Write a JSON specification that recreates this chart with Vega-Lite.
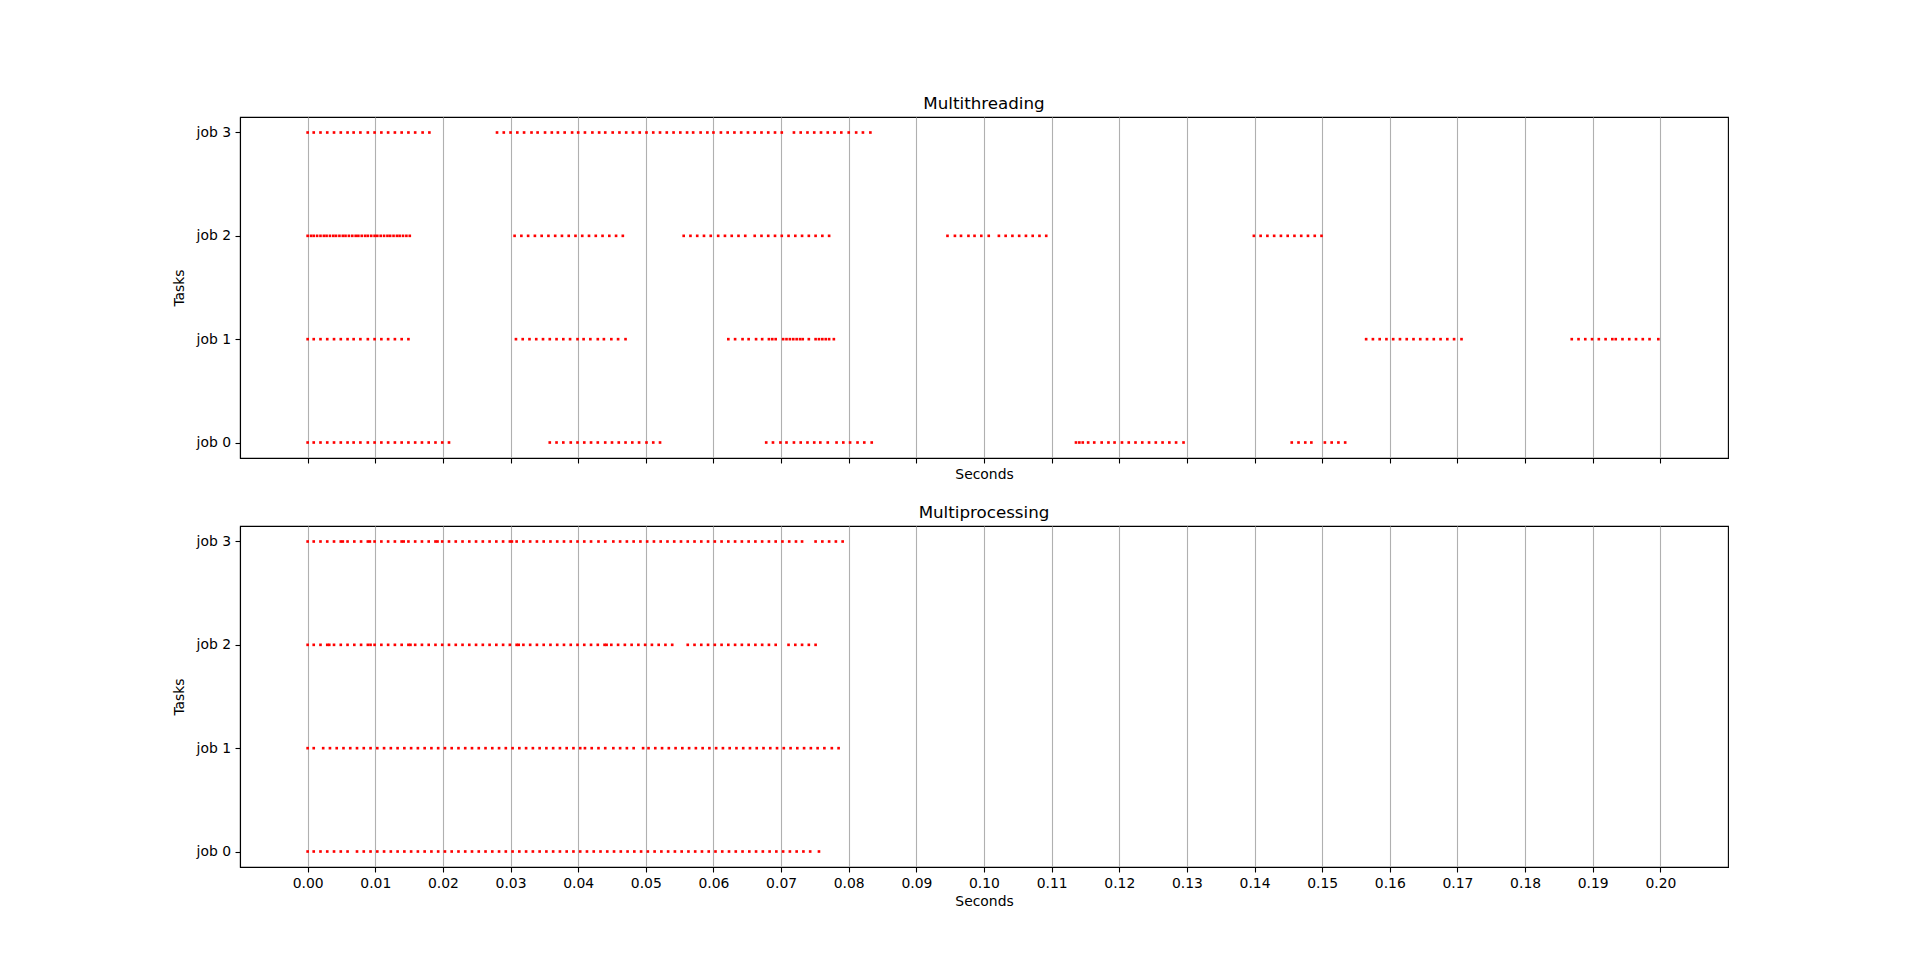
{
"$schema": "https://vega.github.io/schema/vega-lite/v6.json",
"background": "white",
"padding": {"left": 172, "top": 95, "right": 192, "bottom": 70},
"spacing": 68,
"bounds": "flush",
"datasets": {
"mt": [
{"j":3,"t":0},{"j":3,"t":0.0009},{"j":3,"t":0.0019},{"j":3,"t":0.0029},{"j":3,"t":0.0039},{"j":3,"t":0.0049},{"j":3,"t":0.0059},{"j":3,"t":0.0068},{"j":3,"t":0.0078},{"j":3,"t":0.0089},{"j":3,"t":0.0099},{"j":3,"t":0.0109},{"j":3,"t":0.0119},{"j":3,"t":0.0129},{"j":3,"t":0.0139},{"j":3,"t":0.0149},{"j":3,"t":0.0159},{"j":3,"t":0.017},{"j":3,"t":0.018},
{"j":3,"t":0.028},{"j":3,"t":0.029},{"j":3,"t":0.03},{"j":3,"t":0.031},{"j":3,"t":0.032},{"j":3,"t":0.0331},{"j":3,"t":0.034},{"j":3,"t":0.0351},{"j":3,"t":0.0361},{"j":3,"t":0.037},{"j":3,"t":0.038},{"j":3,"t":0.0391},{"j":3,"t":0.04},{"j":3,"t":0.041},{"j":3,"t":0.0421},{"j":3,"t":0.0431},{"j":3,"t":0.044},{"j":3,"t":0.0451},{"j":3,"t":0.0461},{"j":3,"t":0.0471},{"j":3,"t":0.0481},{"j":3,"t":0.0491},{"j":3,"t":0.0501},{"j":3,"t":0.0511},{"j":3,"t":0.0521},{"j":3,"t":0.0531},{"j":3,"t":0.0541},{"j":3,"t":0.0551},{"j":3,"t":0.0561},{"j":3,"t":0.057},{"j":3,"t":0.0581},{"j":3,"t":0.0591},{"j":3,"t":0.06},{"j":3,"t":0.0611},{"j":3,"t":0.0621},{"j":3,"t":0.0631},{"j":3,"t":0.0641},{"j":3,"t":0.0651},{"j":3,"t":0.0661},{"j":3,"t":0.0671},{"j":3,"t":0.0681},{"j":3,"t":0.0691},{"j":3,"t":0.0701},
{"j":3,"t":0.0719},{"j":3,"t":0.0729},{"j":3,"t":0.0739},{"j":3,"t":0.0749},{"j":3,"t":0.0759},{"j":3,"t":0.0769},{"j":3,"t":0.0779},{"j":3,"t":0.0789},{"j":3,"t":0.08},{"j":3,"t":0.0811},{"j":3,"t":0.0821},{"j":3,"t":0.0832},
{"j":2,"t":0},{"j":2,"t":0.0005},{"j":2,"t":0.0009},{"j":2,"t":0.0014},{"j":2,"t":0.0019},{"j":2,"t":0.0024},{"j":2,"t":0.0028},{"j":2,"t":0.0033},{"j":2,"t":0.0038},{"j":2,"t":0.0042},{"j":2,"t":0.0047},{"j":2,"t":0.0052},{"j":2,"t":0.0056},{"j":2,"t":0.0061},{"j":2,"t":0.0066},{"j":2,"t":0.0071},{"j":2,"t":0.0075},{"j":2,"t":0.008},{"j":2,"t":0.0085},{"j":2,"t":0.0089},{"j":2,"t":0.0094},{"j":2,"t":0.0099},{"j":2,"t":0.0103},{"j":2,"t":0.0108},{"j":2,"t":0.0113},{"j":2,"t":0.0118},{"j":2,"t":0.0122},{"j":2,"t":0.0127},{"j":2,"t":0.0132},{"j":2,"t":0.0136},{"j":2,"t":0.0141},{"j":2,"t":0.0146},{"j":2,"t":0.0151},
{"j":2,"t":0.0306},{"j":2,"t":0.0316},{"j":2,"t":0.0326},{"j":2,"t":0.0336},{"j":2,"t":0.0346},{"j":2,"t":0.0356},{"j":2,"t":0.0366},{"j":2,"t":0.0376},{"j":2,"t":0.0386},{"j":2,"t":0.0396},{"j":2,"t":0.0406},{"j":2,"t":0.0416},{"j":2,"t":0.0426},{"j":2,"t":0.0436},{"j":2,"t":0.0446},{"j":2,"t":0.0456},{"j":2,"t":0.0466},
{"j":2,"t":0.0556},{"j":2,"t":0.0566},{"j":2,"t":0.0576},{"j":2,"t":0.0586},{"j":2,"t":0.0596},{"j":2,"t":0.0607},{"j":2,"t":0.0617},{"j":2,"t":0.0627},{"j":2,"t":0.0637},{"j":2,"t":0.0647},
{"j":2,"t":0.0661},{"j":2,"t":0.0671},{"j":2,"t":0.0681},{"j":2,"t":0.0691},{"j":2,"t":0.0701},{"j":2,"t":0.0711},{"j":2,"t":0.0721},{"j":2,"t":0.0731},{"j":2,"t":0.0741},{"j":2,"t":0.0751},{"j":2,"t":0.0761},{"j":2,"t":0.0771},
{"j":2,"t":0.0946},{"j":2,"t":0.0957},{"j":2,"t":0.0966},{"j":2,"t":0.0977},{"j":2,"t":0.0986},{"j":2,"t":0.0996},{"j":2,"t":0.1007},{"j":2,"t":0.1022},{"j":2,"t":0.1032},{"j":2,"t":0.1042},{"j":2,"t":0.1052},{"j":2,"t":0.1062},{"j":2,"t":0.1072},{"j":2,"t":0.1082},{"j":2,"t":0.1092},
{"j":2,"t":0.1399},{"j":2,"t":0.1409},{"j":2,"t":0.1419},{"j":2,"t":0.1429},{"j":2,"t":0.1439},{"j":2,"t":0.1449},{"j":2,"t":0.1459},{"j":2,"t":0.1469},{"j":2,"t":0.1479},{"j":2,"t":0.1489},{"j":2,"t":0.1499},
{"j":1,"t":0},{"j":1,"t":0.0009},{"j":1,"t":0.0019},{"j":1,"t":0.0029},{"j":1,"t":0.0039},{"j":1,"t":0.0049},{"j":1,"t":0.0059},{"j":1,"t":0.0068},{"j":1,"t":0.0078},{"j":1,"t":0.0089},{"j":1,"t":0.0099},{"j":1,"t":0.0109},{"j":1,"t":0.0119},{"j":1,"t":0.0129},{"j":1,"t":0.0139},{"j":1,"t":0.0149},
{"j":1,"t":0.0308},{"j":1,"t":0.0318},{"j":1,"t":0.0328},{"j":1,"t":0.0338},{"j":1,"t":0.0348},{"j":1,"t":0.0358},{"j":1,"t":0.0368},{"j":1,"t":0.0378},{"j":1,"t":0.0388},{"j":1,"t":0.0399},{"j":1,"t":0.0408},{"j":1,"t":0.0418},{"j":1,"t":0.0429},{"j":1,"t":0.0438},{"j":1,"t":0.0449},{"j":1,"t":0.0459},{"j":1,"t":0.047},
{"j":1,"t":0.0622},{"j":1,"t":0.0632},{"j":1,"t":0.0643},{"j":1,"t":0.0652},{"j":1,"t":0.0663},{"j":1,"t":0.0672},{"j":1,"t":0.0682},{"j":1,"t":0.0687},{"j":1,"t":0.0692},{"j":1,"t":0.0703},{"j":1,"t":0.0708},{"j":1,"t":0.0713},{"j":1,"t":0.0718},{"j":1,"t":0.0723},{"j":1,"t":0.0728},{"j":1,"t":0.0732},{"j":1,"t":0.0741},{"j":1,"t":0.0751},{"j":1,"t":0.0756},{"j":1,"t":0.0761},{"j":1,"t":0.0766},{"j":1,"t":0.0771},{"j":1,"t":0.0778},
{"j":1,"t":0.1565},{"j":1,"t":0.1575},{"j":1,"t":0.1585},{"j":1,"t":0.1595},{"j":1,"t":0.1605},{"j":1,"t":0.1615},{"j":1,"t":0.1625},{"j":1,"t":0.1635},{"j":1,"t":0.1645},{"j":1,"t":0.1655},{"j":1,"t":0.1665},{"j":1,"t":0.1675},{"j":1,"t":0.1685},{"j":1,"t":0.1695},{"j":1,"t":0.1706},
{"j":1,"t":0.1869},{"j":1,"t":0.1879},{"j":1,"t":0.1889},{"j":1,"t":0.1899},{"j":1,"t":0.1909},{"j":1,"t":0.1919},{"j":1,"t":0.1929},{"j":1,"t":0.1934},{"j":1,"t":0.1944},{"j":1,"t":0.1954},{"j":1,"t":0.1964},{"j":1,"t":0.1974},{"j":1,"t":0.1984},{"j":1,"t":0.1997},
{"j":0,"t":0},{"j":0,"t":0.0009},{"j":0,"t":0.0019},{"j":0,"t":0.0029},{"j":0,"t":0.0039},{"j":0,"t":0.0049},{"j":0,"t":0.0059},{"j":0,"t":0.0068},{"j":0,"t":0.0078},{"j":0,"t":0.0089},{"j":0,"t":0.0099},{"j":0,"t":0.0109},{"j":0,"t":0.0119},{"j":0,"t":0.0129},{"j":0,"t":0.0139},{"j":0,"t":0.0149},{"j":0,"t":0.0159},{"j":0,"t":0.0169},{"j":0,"t":0.0179},{"j":0,"t":0.0189},{"j":0,"t":0.0199},{"j":0,"t":0.0209},
{"j":0,"t":0.0358},{"j":0,"t":0.0368},{"j":0,"t":0.0378},{"j":0,"t":0.0389},{"j":0,"t":0.0399},{"j":0,"t":0.0409},{"j":0,"t":0.0419},{"j":0,"t":0.0429},{"j":0,"t":0.044},{"j":0,"t":0.045},{"j":0,"t":0.046},{"j":0,"t":0.047},{"j":0,"t":0.048},{"j":0,"t":0.049},{"j":0,"t":0.0501},{"j":0,"t":0.0511},{"j":0,"t":0.0521},
{"j":0,"t":0.0678},{"j":0,"t":0.0688},{"j":0,"t":0.0699},{"j":0,"t":0.0708},{"j":0,"t":0.0719},{"j":0,"t":0.0729},{"j":0,"t":0.0739},{"j":0,"t":0.0749},{"j":0,"t":0.0758},{"j":0,"t":0.0769},{"j":0,"t":0.0782},{"j":0,"t":0.0792},{"j":0,"t":0.0802},{"j":0,"t":0.0813},{"j":0,"t":0.0823},{"j":0,"t":0.0834},
{"j":0,"t":0.1136},{"j":0,"t":0.1141},{"j":0,"t":0.1146},{"j":0,"t":0.1154},{"j":0,"t":0.1163},{"j":0,"t":0.1174},{"j":0,"t":0.1184},{"j":0,"t":0.1193},{"j":0,"t":0.1204},{"j":0,"t":0.1214},{"j":0,"t":0.1224},{"j":0,"t":0.1234},{"j":0,"t":0.1244},{"j":0,"t":0.1254},{"j":0,"t":0.1264},{"j":0,"t":0.1274},{"j":0,"t":0.1284},{"j":0,"t":0.1295},
{"j":0,"t":0.1455},{"j":0,"t":0.1465},{"j":0,"t":0.1475},{"j":0,"t":0.1484},{"j":0,"t":0.1504},{"j":0,"t":0.1514},{"j":0,"t":0.1524},{"j":0,"t":0.1534}
],
"mp": [
{"j":3,"t":0},{"j":3,"t":0.0009},{"j":3,"t":0.0019},{"j":3,"t":0.0029},{"j":3,"t":0.0039},{"j":3,"t":0.0049},{"j":3,"t":0.0052},{"j":3,"t":0.0059},{"j":3,"t":0.0069},{"j":3,"t":0.0079},{"j":3,"t":0.0089},{"j":3,"t":0.0092},{"j":3,"t":0.0099},{"j":3,"t":0.0109},{"j":3,"t":0.0119},{"j":3,"t":0.0129},{"j":3,"t":0.0139},{"j":3,"t":0.0142},{"j":3,"t":0.0149},{"j":3,"t":0.0159},{"j":3,"t":0.0169},{"j":3,"t":0.0179},{"j":3,"t":0.0189},{"j":3,"t":0.0192},{"j":3,"t":0.0199},{"j":3,"t":0.0209},{"j":3,"t":0.0219},{"j":3,"t":0.0229},{"j":3,"t":0.0239},{"j":3,"t":0.0249},{"j":3,"t":0.0259},{"j":3,"t":0.0269},{"j":3,"t":0.0279},{"j":3,"t":0.0289},{"j":3,"t":0.0299},{"j":3,"t":0.0302},{"j":3,"t":0.0309},{"j":3,"t":0.0319},{"j":3,"t":0.0329},{"j":3,"t":0.0339},{"j":3,"t":0.0349},{"j":3,"t":0.0359},{"j":3,"t":0.0369},{"j":3,"t":0.0379},{"j":3,"t":0.0389},{"j":3,"t":0.0399},{"j":3,"t":0.0409},{"j":3,"t":0.0419},{"j":3,"t":0.043},{"j":3,"t":0.044},{"j":3,"t":0.0452},{"j":3,"t":0.0462},{"j":3,"t":0.0472},{"j":3,"t":0.0482},{"j":3,"t":0.0492},{"j":3,"t":0.0502},{"j":3,"t":0.0512},{"j":3,"t":0.0522},{"j":3,"t":0.0532},{"j":3,"t":0.0542},{"j":3,"t":0.0552},{"j":3,"t":0.0562},{"j":3,"t":0.0572},{"j":3,"t":0.0582},{"j":3,"t":0.0592},{"j":3,"t":0.0602},{"j":3,"t":0.0612},{"j":3,"t":0.0622},{"j":3,"t":0.0632},{"j":3,"t":0.0642},{"j":3,"t":0.0652},{"j":3,"t":0.0662},{"j":3,"t":0.0672},{"j":3,"t":0.0682},{"j":3,"t":0.0692},{"j":3,"t":0.0702},{"j":3,"t":0.0712},{"j":3,"t":0.0722},{"j":3,"t":0.0731},
{"j":3,"t":0.0751},{"j":3,"t":0.0761},{"j":3,"t":0.0771},{"j":3,"t":0.0781},{"j":3,"t":0.0791},
{"j":2,"t":0},{"j":2,"t":0.0009},{"j":2,"t":0.0019},{"j":2,"t":0.0029},{"j":2,"t":0.0032},{"j":2,"t":0.0039},{"j":2,"t":0.0049},{"j":2,"t":0.0059},{"j":2,"t":0.0069},{"j":2,"t":0.0079},{"j":2,"t":0.0089},{"j":2,"t":0.0093},{"j":2,"t":0.0099},{"j":2,"t":0.0109},{"j":2,"t":0.0119},{"j":2,"t":0.0129},{"j":2,"t":0.0139},{"j":2,"t":0.0149},{"j":2,"t":0.0152},{"j":2,"t":0.0159},{"j":2,"t":0.0169},{"j":2,"t":0.0179},{"j":2,"t":0.0189},{"j":2,"t":0.0199},{"j":2,"t":0.0209},{"j":2,"t":0.0219},{"j":2,"t":0.0229},{"j":2,"t":0.0239},{"j":2,"t":0.0249},{"j":2,"t":0.0259},{"j":2,"t":0.0269},{"j":2,"t":0.0279},{"j":2,"t":0.0289},{"j":2,"t":0.0299},{"j":2,"t":0.0309},{"j":2,"t":0.0312},{"j":2,"t":0.0319},{"j":2,"t":0.0329},{"j":2,"t":0.0339},{"j":2,"t":0.0349},{"j":2,"t":0.0359},{"j":2,"t":0.0369},{"j":2,"t":0.0379},{"j":2,"t":0.0389},{"j":2,"t":0.0399},{"j":2,"t":0.0409},{"j":2,"t":0.0419},{"j":2,"t":0.0429},{"j":2,"t":0.0439},{"j":2,"t":0.0442},{"j":2,"t":0.0449},{"j":2,"t":0.0459},{"j":2,"t":0.0469},{"j":2,"t":0.0479},{"j":2,"t":0.0489},{"j":2,"t":0.0499},{"j":2,"t":0.0509},{"j":2,"t":0.0519},{"j":2,"t":0.0529},{"j":2,"t":0.0539},
{"j":2,"t":0.0562},{"j":2,"t":0.0572},{"j":2,"t":0.0582},{"j":2,"t":0.0592},{"j":2,"t":0.0602},{"j":2,"t":0.0612},{"j":2,"t":0.0622},{"j":2,"t":0.0632},{"j":2,"t":0.0642},{"j":2,"t":0.0652},{"j":2,"t":0.0662},{"j":2,"t":0.0672},{"j":2,"t":0.0682},{"j":2,"t":0.0692},
{"j":2,"t":0.0711},{"j":2,"t":0.0721},{"j":2,"t":0.0731},{"j":2,"t":0.0741},{"j":2,"t":0.0751},
{"j":1,"t":0},{"j":1,"t":0.0009},{"j":1,"t":0.0023},{"j":1,"t":0.0033},{"j":1,"t":0.0043},{"j":1,"t":0.0053},{"j":1,"t":0.0063},{"j":1,"t":0.0073},{"j":1,"t":0.0083},{"j":1,"t":0.0093},{"j":1,"t":0.0103},{"j":1,"t":0.0113},{"j":1,"t":0.0123},{"j":1,"t":0.0133},{"j":1,"t":0.0143},{"j":1,"t":0.0153},{"j":1,"t":0.0163},{"j":1,"t":0.0173},{"j":1,"t":0.0183},{"j":1,"t":0.0193},{"j":1,"t":0.0203},{"j":1,"t":0.0213},{"j":1,"t":0.0223},{"j":1,"t":0.0233},{"j":1,"t":0.0243},{"j":1,"t":0.0253},{"j":1,"t":0.0263},{"j":1,"t":0.0273},{"j":1,"t":0.0283},{"j":1,"t":0.0293},{"j":1,"t":0.0303},{"j":1,"t":0.0313},{"j":1,"t":0.0323},{"j":1,"t":0.0333},{"j":1,"t":0.0343},{"j":1,"t":0.0353},{"j":1,"t":0.0363},{"j":1,"t":0.0373},{"j":1,"t":0.0383},{"j":1,"t":0.0393},{"j":1,"t":0.0403},{"j":1,"t":0.041},{"j":1,"t":0.042},{"j":1,"t":0.043},{"j":1,"t":0.044},{"j":1,"t":0.0452},{"j":1,"t":0.0462},{"j":1,"t":0.0472},{"j":1,"t":0.0482},{"j":1,"t":0.0496},{"j":1,"t":0.0504},{"j":1,"t":0.0514},{"j":1,"t":0.0524},{"j":1,"t":0.0534},{"j":1,"t":0.0544},{"j":1,"t":0.0554},{"j":1,"t":0.0564},{"j":1,"t":0.0574},{"j":1,"t":0.0584},{"j":1,"t":0.0594},{"j":1,"t":0.0604},{"j":1,"t":0.0614},{"j":1,"t":0.0624},{"j":1,"t":0.0634},{"j":1,"t":0.0644},{"j":1,"t":0.0654},{"j":1,"t":0.0664},{"j":1,"t":0.0674},{"j":1,"t":0.0684},{"j":1,"t":0.0694},{"j":1,"t":0.0704},{"j":1,"t":0.0714},{"j":1,"t":0.0724},{"j":1,"t":0.0734},{"j":1,"t":0.0744},{"j":1,"t":0.0754},{"j":1,"t":0.0764},{"j":1,"t":0.0775},{"j":1,"t":0.0785},
{"j":0,"t":0},{"j":0,"t":0.0009},{"j":0,"t":0.0019},{"j":0,"t":0.0029},{"j":0,"t":0.0039},{"j":0,"t":0.0049},{"j":0,"t":0.0059},{"j":0,"t":0.0073},{"j":0,"t":0.0083},{"j":0,"t":0.0093},{"j":0,"t":0.0103},{"j":0,"t":0.0113},{"j":0,"t":0.0123},{"j":0,"t":0.0133},{"j":0,"t":0.0143},{"j":0,"t":0.0153},{"j":0,"t":0.0163},{"j":0,"t":0.0173},{"j":0,"t":0.0183},{"j":0,"t":0.0193},{"j":0,"t":0.0203},{"j":0,"t":0.0213},{"j":0,"t":0.0223},{"j":0,"t":0.0233},{"j":0,"t":0.0243},{"j":0,"t":0.0253},{"j":0,"t":0.0263},{"j":0,"t":0.0273},{"j":0,"t":0.0283},{"j":0,"t":0.0293},{"j":0,"t":0.0303},{"j":0,"t":0.0313},{"j":0,"t":0.0323},{"j":0,"t":0.0333},{"j":0,"t":0.0343},{"j":0,"t":0.0353},{"j":0,"t":0.0363},{"j":0,"t":0.0373},{"j":0,"t":0.0383},{"j":0,"t":0.0393},{"j":0,"t":0.0403},{"j":0,"t":0.0413},{"j":0,"t":0.0423},{"j":0,"t":0.0433},{"j":0,"t":0.0443},{"j":0,"t":0.0453},{"j":0,"t":0.0463},{"j":0,"t":0.0473},{"j":0,"t":0.0483},{"j":0,"t":0.0493},{"j":0,"t":0.0503},{"j":0,"t":0.0513},{"j":0,"t":0.0523},{"j":0,"t":0.0533},{"j":0,"t":0.0543},{"j":0,"t":0.0553},{"j":0,"t":0.0563},{"j":0,"t":0.0573},{"j":0,"t":0.0583},{"j":0,"t":0.0593},{"j":0,"t":0.0603},{"j":0,"t":0.0613},{"j":0,"t":0.0623},{"j":0,"t":0.0633},{"j":0,"t":0.0643},{"j":0,"t":0.0653},{"j":0,"t":0.0663},{"j":0,"t":0.0673},{"j":0,"t":0.0683},{"j":0,"t":0.0693},{"j":0,"t":0.0703},{"j":0,"t":0.0713},{"j":0,"t":0.0723},{"j":0,"t":0.0733},{"j":0,"t":0.0743},{"j":0,"t":0.0756}
]
},
"vconcat": [
{
"data": {"name": "mt"},
"title": {"text": "Multithreading"},
"width": 1488,
"height": 341,
"mark": {"type": "point", "shape": "square", "filled": true, "size": 7, "color": "#ff0000", "opacity": 1},
"encoding": {
"x": {"field": "t", "type": "quantitative", "scale": {"domain": [-0.01, 0.21], "nice": false, "zero": false},
"axis": {"values": [0,0.01,0.02,0.03,0.04,0.05,0.06,0.07,0.08,0.09,0.1,0.11,0.12,0.13,0.14,0.15,0.16,0.17,0.18,0.19,0.2], "labels": false, "title": "Seconds", "titlePadding": 4, "grid": true}},
"y": {"field": "j", "type": "quantitative", "scale": {"domain": [-0.15, 3.15], "nice": false, "zero": false},
"axis": {"values": [0,1,2,3], "labelExpr": "'job ' + datum.value", "title": "Tasks", "titlePadding": 9.5, "grid": false}}
}
},
{
"data": {"name": "mp"},
"title": {"text": "Multiprocessing"},
"width": 1488,
"height": 341,
"mark": {"type": "point", "shape": "square", "filled": true, "size": 7, "color": "#ff0000", "opacity": 1},
"encoding": {
"x": {"field": "t", "type": "quantitative", "scale": {"domain": [-0.01, 0.21], "nice": false, "zero": false},
"axis": {"values": [0,0.01,0.02,0.03,0.04,0.05,0.06,0.07,0.08,0.09,0.1,0.11,0.12,0.13,0.14,0.15,0.16,0.17,0.18,0.19,0.2], "format": ".2f", "title": "Seconds", "titlePadding": 4, "grid": true}},
"y": {"field": "j", "type": "quantitative", "scale": {"domain": [-0.15, 3.15], "nice": false, "zero": false},
"axis": {"values": [0,1,2,3], "labelExpr": "'job ' + datum.value", "title": "Tasks", "titlePadding": 9.5, "grid": false}}
}
}
],
"config": {
"font": "DejaVu Sans",
"view": {"stroke": "#000000", "strokeWidth": 1.1},
"axis": {"labelFont": "DejaVu Sans", "titleFont": "DejaVu Sans", "labelFontSize": 13.9, "titleFontSize": 13.9, "labelColor": "#000000", "titleColor": "#000000", "titleFontWeight": "normal", "tickColor": "#000000", "tickSize": 5, "tickWidth": 1.1, "domainColor": "#000000", "domainWidth": 1.1, "gridColor": "#b0b0b0", "gridWidth": 1.1, "gridOpacity": 1, "labelPadding": 4.5},
"title": {"font": "DejaVu Sans", "fontSize": 16.7, "fontWeight": "normal", "color": "#000000", "anchor": "middle", "offset": 4}
}
}
